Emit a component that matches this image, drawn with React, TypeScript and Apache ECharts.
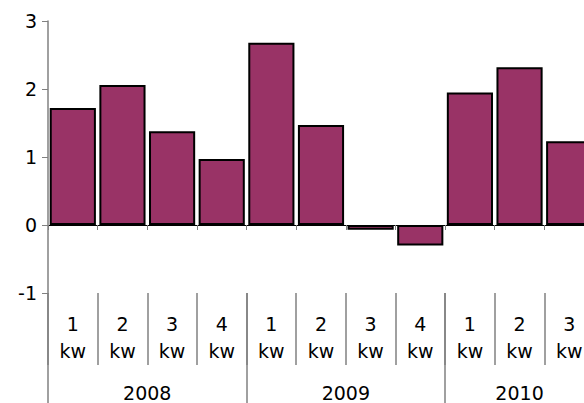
import React, { useEffect, useRef } from "react";
import * as echarts from "echarts";

const quarters = ["1\nkw", "2\nkw", "3\nkw", "4\nkw", "1\nkw", "2\nkw", "3\nkw", "4\nkw", "1\nkw", "2\nkw", "3\nkw"];
const values = [1.72, 2.06, 1.38, 0.97, 2.68, 1.47, -0.07, -0.3, 1.95, 2.32, 1.23];
const years = ["2008", "2009", "2010"];
const yearStarts = [0, 4, 8];
const yearCenters = [2, 6, 9.5];

export default function App() {
  const ref = useRef<HTMLDivElement>(null);
  useEffect(() => {
    const chart = echarts.init(ref.current!, null, { renderer: "svg" });
    const font = "DejaVu Sans";
    chart.setOption({
      animation: false,
      grid: { left: 48, top: 21, bottom: 110, right: 0, containLabel: false },
      xAxis: [
        {
          type: "category",
          data: quarters,
          axisLine: { show: true, onZero: true, lineStyle: { color: "#000", width: 1 } },
          axisTick: { show: true, length: 5, lineStyle: { color: "#808080" } },
          axisLabel: { show: false },
        },
        {
          type: "category",
          data: quarters,
          position: "bottom",
          axisLine: { show: false, onZero: false },
          axisTick: { show: true, length: 72, lineStyle: { color: "#808080", width: 1.5 } },
          axisLabel: { show: true, fontFamily: font, fontSize: 19, color: "#000", lineHeight: 27, margin: 17 },
        },
        {
          type: "value",
          min: 0,
          max: 11,
          position: "bottom",
          splitLine: { show: false },
          axisLine: { show: false, onZero: false },
          axisTick: { show: true, length: 110, customValues: yearStarts, lineStyle: { color: "#808080", width: 1.5 } },
          axisLabel: {
            show: true,
            customValues: yearCenters,
            fontFamily: font,
            fontSize: 19,
            color: "#000",
            margin: 90,
            formatter: (v: number) => years[yearCenters.indexOf(v)] ?? "",
          },
        },
      ],
      yAxis: {
        type: "value",
        min: -1,
        max: 3,
        interval: 1,
        splitLine: { show: false },
        axisLine: { show: true, onZero: false, lineStyle: { color: "#808080", width: 1.5 } },
        axisTick: { show: true, length: 6, lineStyle: { color: "#808080" } },
        axisLabel: { fontFamily: font, fontSize: 19, color: "#000", margin: 11 },
      },
      series: [
        {
          type: "bar",
          data: values,
          xAxisIndex: 0,
          barCategoryGap: "7%",
          itemStyle: { color: "#993366", borderColor: "#000", borderWidth: 2 },
        },
      ],
    });
    return () => chart.dispose();
  }, []);
  return (
    <div style={{ width: 584, height: 403, position: "absolute", left: 0, top: 0, overflow: "hidden" }}>
      <div ref={ref} style={{ width: 594, height: 403 }} />
    </div>
  );
}
